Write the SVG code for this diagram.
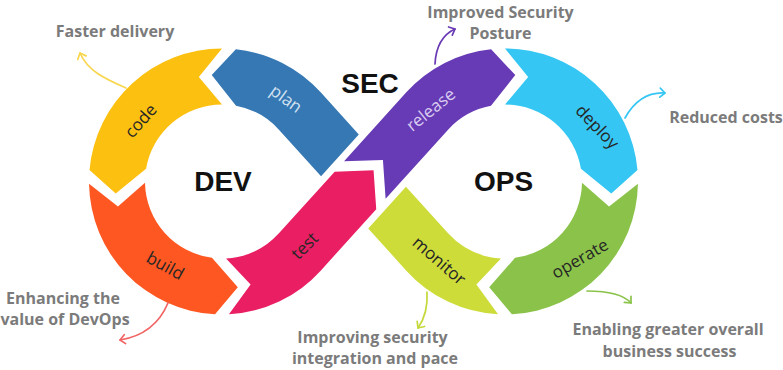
<svg xmlns="http://www.w3.org/2000/svg" width="783" height="370" viewBox="0 0 783 370">
<defs>
<style>
.seg-label{font-family:"Open Sans","DejaVu Sans",sans-serif;font-size:17px;text-anchor:middle}
.dark{fill:#262626}
.big{font-family:"Liberation Sans",Arial,sans-serif;font-weight:bold;font-size:28px;fill:#111;text-anchor:middle}
.out{font-family:"Open Sans","DejaVu Sans",sans-serif;font-weight:bold;font-size:16px;fill:#7b7b7b;text-anchor:middle}
.conn{fill:none;stroke-width:1.7;stroke-linecap:round}
</style>
<marker id="mY" markerWidth="12" markerHeight="12" refX="7" refY="6" orient="auto" markerUnits="userSpaceOnUse"><path d="M2,1.5 L7,6 L2,10.5" fill="none" stroke="#f8d64e" stroke-width="1.7" stroke-linecap="round" stroke-linejoin="round"/></marker>
<marker id="mP" markerWidth="12" markerHeight="12" refX="7" refY="6" orient="auto" markerUnits="userSpaceOnUse"><path d="M2,1.5 L7,6 L2,10.5" fill="none" stroke="#6a3ab5" stroke-width="1.7" stroke-linecap="round" stroke-linejoin="round"/></marker>
<marker id="mB" markerWidth="12" markerHeight="12" refX="7" refY="6" orient="auto" markerUnits="userSpaceOnUse"><path d="M2,1.5 L7,6 L2,10.5" fill="none" stroke="#36c6f4" stroke-width="1.7" stroke-linecap="round" stroke-linejoin="round"/></marker>
<marker id="mR" markerWidth="12" markerHeight="12" refX="7" refY="6" orient="auto" markerUnits="userSpaceOnUse"><path d="M2,1.5 L7,6 L2,10.5" fill="none" stroke="#f26464" stroke-width="1.7" stroke-linecap="round" stroke-linejoin="round"/></marker>
<marker id="mL" markerWidth="12" markerHeight="12" refX="7" refY="6" orient="auto" markerUnits="userSpaceOnUse"><path d="M2,1.5 L7,6 L2,10.5" fill="none" stroke="#c5d83a" stroke-width="1.7" stroke-linecap="round" stroke-linejoin="round"/></marker>
<marker id="mG" markerWidth="12" markerHeight="12" refX="7" refY="6" orient="auto" markerUnits="userSpaceOnUse"><path d="M2,1.5 L7,6 L2,10.5" fill="none" stroke="#8bc34a" stroke-width="1.7" stroke-linecap="round" stroke-linejoin="round"/></marker>
</defs>
<rect width="783" height="370" fill="#ffffff"/>

<g id="plan">
<path d="M358.79,134.51 L320.69,92.34 A133,133 0 0 0 235.90,49.23 L211.74,74.99 L236.03,105.79 A77,77 0 0 1 279.14,129.88 L321.05,176.28 Z" fill="#3578b4"/>
<text class="seg-label" fill="#d3e2f1" transform="translate(286,99) rotate(36)" y="5.5">plan</text>
</g>
<g id="code">
<path d="M222,48.5 A133,133 0 0 0 89.51,169.91 L115.69,193.61 L146.06,168.79 A77,77 0 0 1 222,104.5 L198.84,77.04 Z" fill="#fcc010"/>
<text class="seg-label dark" transform="translate(141,121) rotate(-48)" y="5.5">code</text>
</g>
<g id="build">
<path d="M89.02,183.82 A133,133 0 0 0 215.04,314.32 L237.82,287.33 L211.95,257.84 A77,77 0 0 1 145.01,182.84 L117.96,206.48 Z" fill="#fe5722"/>
<text class="seg-label dark" transform="translate(165,266) rotate(29)" y="5.5">build</text>
</g>
<g id="test">
<path d="M228.96,314.32 A133,133 0 0 0 320.69,270.66 L376.24,209.17 L373.56,170.37 L334.68,171.63 L279.14,233.12 A77,77 0 0 1 226.03,258.39 L250.59,284.61 Z" fill="#e91e63"/>
<text class="seg-label dark" transform="translate(305,246) rotate(-45)" y="5.5">test</text>
</g>
<g id="release">
<path d="M344.06,161.25 L406.31,92.34 A133,133 0 0 1 491.10,49.23 L515.26,74.99 L490.97,105.79 A77,77 0 0 0 447.86,129.88 L385.62,198.79 L382.94,159.98 Z" fill="#673ab6"/>
<text class="seg-label" fill="#d9cdf0" transform="translate(431,110) rotate(-39)" y="5.5">release</text>
</g>
<g id="deploy">
<path d="M505,48.5 A133,133 0 0 1 637.49,169.91 L611.31,193.61 L580.94,168.79 A77,77 0 0 0 505,104.5 L528.16,77.04 Z" fill="#35c6f3"/>
<text class="seg-label dark" transform="translate(597,127) rotate(46)" y="5.5">deploy</text>
</g>
<g id="operate">
<path d="M637.98,183.82 A133,133 0 0 1 511.96,314.32 L489.18,287.33 L515.05,257.84 A77,77 0 0 0 581.99,182.84 L609.04,206.48 Z" fill="#8bc34a"/>
<text class="seg-label dark" transform="translate(580,259) rotate(-30)" y="5.5">operate</text>
</g>
<g id="monitor">
<path d="M498.04,314.32 A133,133 0 0 1 406.31,270.66 L368.21,228.49 L405.95,186.72 L447.86,233.12 A77,77 0 0 0 500.97,258.39 L476.41,284.61 Z" fill="#cddc39"/>
<text class="seg-label dark" transform="translate(439,261) rotate(41)" y="5.5">monitor</text>
</g>

<g id="centers">
<text class="big" x="370" y="93">SEC</text>
<text class="big" x="223" y="191">DEV</text>
<text class="big" x="503.5" y="191">OPS</text>
</g>

<g id="connectors">
<path class="conn" stroke="#f8d64e" d="M126,88 C108,80 88,72 80,53" marker-end="url(#mY)"/>
<path class="conn" stroke="#6a3ab5" d="M435,64 C436,45 444,34 455,29" marker-end="url(#mP)"/>
<path class="conn" stroke="#36c6f4" d="M625,118 C635,100 648,92 665,93" marker-end="url(#mB)"/>
<path class="conn" stroke="#f26464" d="M168,303 C160,322 145,336 120,340" marker-end="url(#mR)"/>
<path class="conn" stroke="#c5d83a" d="M427,292 C428,308 425,318 418,328" marker-end="url(#mL)"/>
<path class="conn" stroke="#8bc34a" d="M587,291 C605,291 622,293 631,303" marker-end="url(#mG)"/>
</g>

<g id="outcomes">
<text class="out" x="500.5" y="17.5">Improved Security</text>
<text class="out" x="500.5" y="38.5">Posture</text>
<text class="out" x="115" y="37">Faster delivery</text>
<text class="out" x="726" y="123">Reduced costs</text>
<text class="out" x="63" y="304">Enhancing the</text>
<text class="out" x="65" y="325">value of DevOps</text>
<text class="out" x="372.5" y="343">Improving security</text>
<text class="out" x="375" y="364">integration and pace</text>
<text class="out" x="668" y="335">Enabling greater overall</text>
<text class="out" x="669.5" y="357">business success</text>
</g>
</svg>
